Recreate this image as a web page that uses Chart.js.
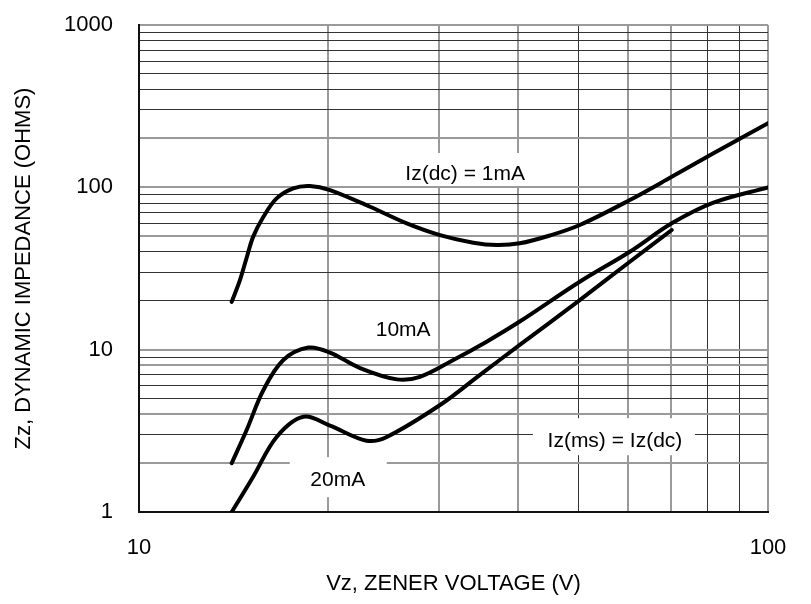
<!DOCTYPE html>
<html>
<head>
<meta charset="utf-8">
<script src="https://cdn.jsdelivr.net/npm/chart.js@4.4.1/dist/chart.umd.min.js"></script>
<style>
  html, body { margin: 0; padding: 0; background: #ffffff; }
  #wrap { width: 811px; height: 604px; }
</style>
</head>
<body>
<div id="wrap"><canvas id="c" width="811" height="604"></canvas></div>
<script>
// ---- data ----
const vz1mA = [14.04, 14.47, 14.85, 15.19, 15.77, 16.55, 17.59, 18.7, 20.12, 23.3, 26.65, 30.1, 34.0, 37.05, 40.3, 45.0, 50.2, 60.3, 70.3, 81.9, 100];
const zz1mA = [19.7, 26.8, 37.5, 49.7, 65.9, 85.5, 98.6, 101.9, 96.2, 75.9, 60.0, 50.8, 45.6, 44.1, 45.2, 50.5, 58.6, 83.5, 116, 162, 248];

const vz10mA = [14.04, 14.83, 15.77, 16.96, 18.59, 20.12, 22.46, 25.7, 27.97, 31.6, 35.7, 40.3, 50.2, 60.3, 70.3, 81.9, 100];
const zz10mA = [2.0, 3.2, 5.64, 8.63, 10.3, 9.6, 7.7, 6.56, 6.8, 8.63, 11.2, 14.9, 26.2, 40.1, 60, 80.5, 100];

const vz20mA = [14.04, 15.19, 16.55, 18.25, 20.12, 23.0, 24.77, 30.1, 34.8, 40.3, 50.2, 60.3, 70.3];
const zz20mA = [1.0, 1.65, 2.9, 3.86, 3.4, 2.75, 2.9, 4.56, 6.97, 10.7, 20.2, 34.8, 54.6];

const xTicks = [10, 20, 30, 40, 50, 60, 70, 80, 90, 100];
const yTicks = [1, 2, 3, 4, 5, 6, 7, 8, 9, 10, 20, 30, 40, 50, 60, 70, 80, 90, 100, 200, 300, 400, 500, 600, 700, 800, 900, 1000];
const xLabelTicks = [10, 100];
const yLabelTicks = [1, 10, 100, 1000];

const xTitle = 'Vz, ZENER VOLTAGE (V)';
const yTitle = 'Zz, DYNAMIC IMPEDANCE (OHMS)';

const annoText = ['Iz(dc) = 1mA', '10mA', '20mA', 'Iz(ms) = Iz(dc)'];
const annoVz = [33.0, 26.3, 20.7, 57.1];
const annoZz = [120.8, 13.2, 1.57, 2.73];

// ---- styling ----
const FONT = '"Liberation Sans", Arial, Helvetica, sans-serif';
const AXIS_FONT = 22;
const ANNO_FONT = 21;
const xGrayLines = [10, 20, 30, 40, 60, 70, 100];
const yGrayLines = [1, 2, 4, 8, 10, 50, 100, 200, 1000];
// white background boxes behind annotation text: [left, top, right, bottom] relative to text centre
const annoBox = [
  [-80, -21, 80, 12],
  [-32, -12, 32, 12],
  [-48, -23, 49, 17],
  [-82, -23, 80, 14]
];

function pts(xs, ys) { return xs.map((x, i) => ({ x: x, y: ys[i] })); }

const annotationPlugin = {
  id: 'annotations',
  beforeDatasetsDraw(chart) {
    const ctx = chart.ctx;
    const xs = chart.scales.x, ys = chart.scales.y;
    ctx.save();
    ctx.font = ANNO_FONT + 'px ' + FONT;
    ctx.textAlign = 'center';
    ctx.textBaseline = 'middle';
    for (let i = 0; i < annoText.length; i++) {
      const cx = xs.getPixelForValue(annoVz[i]);
      const cy = ys.getPixelForValue(annoZz[i]);
      const b = annoBox[i];
      ctx.fillStyle = '#ffffff';
      ctx.fillRect(cx + b[0], cy + b[1], b[2] - b[0], b[3] - b[1]);
      ctx.fillStyle = '#000000';
      ctx.fillText(annoText[i], cx, cy);
    }
    ctx.restore();
  }
};

const lineStyle = {
  borderColor: '#000000',
  borderWidth: 4,
  pointRadius: 0,
  fill: false,
  tension: 0.35,
  borderCapStyle: 'round',
  borderJoinStyle: 'round'
};

new Chart(document.getElementById('c'), {
  type: 'line',
  data: {
    datasets: [
      Object.assign({ label: '1mA', data: pts(vz1mA, zz1mA) }, lineStyle),
      Object.assign({ label: '10mA', data: pts(vz10mA, zz10mA) }, lineStyle),
      Object.assign({ label: '20mA', data: pts(vz20mA, zz20mA) }, lineStyle)
    ]
  },
  options: {
    responsive: false,
    animation: false,
    devicePixelRatio: 1,
    layout: { padding: { top: 25, right: 43, bottom: 0, left: 0 } },
    plugins: { legend: { display: false }, tooltip: { enabled: false } },
    scales: {
      x: {
        type: 'logarithmic',
        position: 'bottom',
        min: 10,
        max: 100,
        afterBuildTicks: (scale) => { scale.ticks = xTicks.map(v => ({ value: v })); },
        afterFit: (scale) => { scale.height = 92; scale.paddingLeft = 0; scale.paddingRight = 0; },
        ticks: {
          autoSkip: false,
          maxRotation: 0,
          padding: 23,
          color: '#000000',
          font: { family: FONT, size: AXIS_FONT },
          callback: (v) => xLabelTicks.includes(v) ? String(v) : ''
        },
        grid: {
          drawTicks: false,
          color: (c) => xGrayLines.includes(c.tick && c.tick.value) ? '#9a9a9a' : '#333333',
          lineWidth: (c) => xGrayLines.includes(c.tick && c.tick.value) ? 2 : 1
        },
        border: { display: true, color: '#111111', width: 2 },
        title: {
          display: true,
          text: xTitle,
          color: '#000000',
          font: { family: FONT, size: AXIS_FONT },
          padding: { top: 0, bottom: 7 }
        }
      },
      y: {
        type: 'logarithmic',
        position: 'left',
        min: 1,
        max: 1000,
        afterBuildTicks: (scale) => { scale.ticks = yTicks.map(v => ({ value: v })); },
        afterFit: (scale) => { scale.width = 139; scale.paddingTop = 0; scale.paddingBottom = 0; },
        ticks: {
          autoSkip: false,
          padding: 26,
          color: '#000000',
          font: { family: FONT, size: AXIS_FONT },
          callback: (v) => yLabelTicks.includes(v) ? String(v) : ''
        },
        grid: {
          drawTicks: false,
          color: (c) => yGrayLines.includes(c.tick && c.tick.value) ? '#9a9a9a' : '#333333',
          lineWidth: (c) => yGrayLines.includes(c.tick && c.tick.value) ? 2 : 1
        },
        border: { display: true, color: '#111111', width: 2 },
        title: {
          display: true,
          text: yTitle,
          color: '#000000',
          font: { family: FONT, size: AXIS_FONT },
          padding: { top: 11, bottom: 0 }
        }
      }
    }
  },
  plugins: [annotationPlugin]
});
</script>
</body>
</html>
